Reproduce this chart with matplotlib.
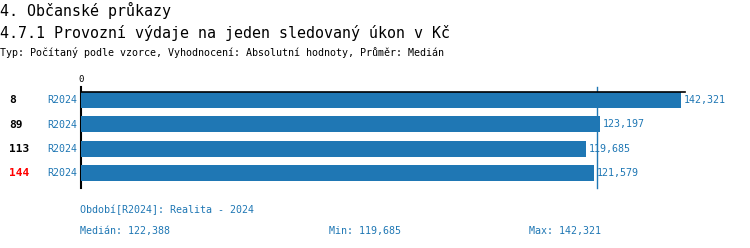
import matplotlib
matplotlib.use("Agg")
import matplotlib.pyplot as plt

ids = ["8", "89", "113", "144"]
id_colors = ["black", "black", "black", "red"]
periods = ["R2024", "R2024", "R2024", "R2024"]
values = [142321, 123197, 119685, 121579]
median = 122388
vmin = 119685
vmax = 142321

title1 = "4. Občanské průkazy"
title2 = "4.7.1 Provozní výdaje na jeden sledovaný úkon v Kč"
subtitle = "Typ: Počítaný podle vzorce, Vyhodnocení: Absolutní hodnoty, Průměr: Medián"
period_note = "Období[R2024]: Realita - 2024"

W, H = 750, 248
BLUE = "#1f77b4"
MONO = "DejaVu Sans Mono"

fig = plt.figure(figsize=(W / 100, H / 100), dpi=100)
ov = fig.add_axes([0, 0, 1, 1])
ov.set_xlim(0, W)
ov.set_ylim(H, 0)
ov.axis("off")

# bar axes: x=81..685 px, y=92..186 px
x0, x1 = 81, 685
y0, y1 = 92, 186
ax = fig.add_axes([x0 / W, 1 - y1 / H, (x1 - x0) / W, (y1 - y0) / H])
ax.patch.set_alpha(0)
scale = 600 / max(values)
ax.set_xlim(0, (x1 - x0) / scale)
ax.set_ylim(3 + 13 / 24.4, -8 / 24.4)
pos = list(range(len(values)))
ax.barh(pos, values, height=16 / 24.4, color=BLUE)
for s in ["left", "right", "bottom"]:
    ax.spines[s].set_visible(False)
ax.spines["top"].set_linewidth(1.2)
ax.set_xticks([])
ax.set_yticks([])
for p, v in zip(pos, values):
    ax.annotate(f"{v:,}", (v, p), xytext=(2, 0), textcoords="offset points",
                va="center", ha="left", color=BLUE, fontsize=7.2, family=MONO)

# axis line and median line
ov.plot([x0, x0], [87, 188], color="black", lw=1.5)
mx = x0 + median * scale
ov.plot([mx, mx], [87, 188], color=BLUE, lw=1)
ov.text(x0, 84, "0", ha="center", va="bottom", fontsize=6.5, family=MONO)

# titles
ov.text(0, 10, title1, fontsize=10.8, family=MONO, va="center", ha="left")
ov.text(0, 33, title2, fontsize=10.8, family=MONO, va="center", ha="left")
ov.text(0, 52, subtitle, fontsize=7.2, family=MONO, va="center", ha="left")

# row labels
ys = [100, 124.5, 149, 173]
for y, i, c, per in zip(ys, ids, id_colors, periods):
    ov.text(9, y, i, fontsize=8, family=MONO, weight="bold", color=c, va="center", ha="left")
    ov.text(47, y, per, fontsize=7.2, family=MONO, color=BLUE, va="center", ha="left")

# footer
fk = dict(fontsize=7.2, family=MONO, color=BLUE, va="center", ha="left")
ov.text(80, 210, period_note, **fk)
ov.text(80, 231, f"Medián: {median:,}", **fk)
ov.text(329, 231, f"Min: {vmin:,}", **fk)
ov.text(529, 231, f"Max: {vmax:,}", **fk)

fig.savefig("out.png", dpi=100)
